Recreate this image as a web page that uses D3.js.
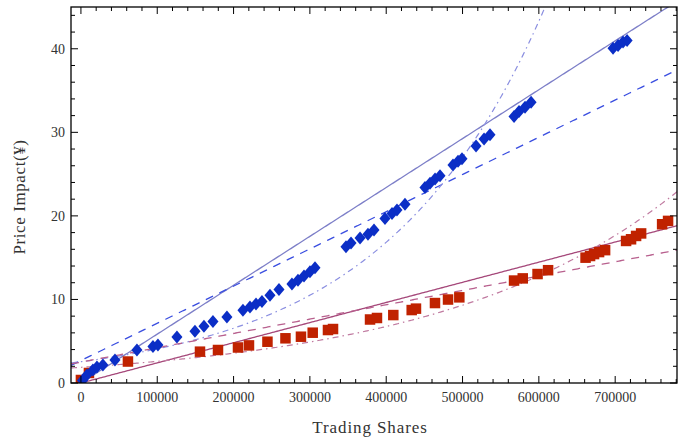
<!DOCTYPE html>
<html>
<head>
<meta charset="utf-8">
<script src="https://cdn.jsdelivr.net/npm/d3@7"></script>
<style>
  html, body { margin: 0; padding: 0; background: #fff; }
  svg { display: block; }
  text { font-family: "Liberation Serif", "DejaVu Serif", serif; }
</style>
</head>
<body>
<svg id="chart" width="686" height="441"></svg>
<script>
// Observed price impact (¥) against trading shares, two stocks
const blueShares = [2000, 7900, 15700, 21000, 28800, 44600, 73400, 94400, 100900, 125800,
  149400, 161200, 173000, 191300, 212300, 221500, 229400, 237200, 247700, 259500,
  276500, 284400, 292300, 300100, 306700, 347300, 353900, 365700, 376100, 384000,
  398400, 407600, 414100, 424600, 450800, 457400, 464000, 470500, 487500, 494100,
  499300, 517700, 528200, 536000, 567500, 574000, 581900, 589800, 697200, 703800,
  710300, 715600];
const blueImpact = [0.3, 0.96, 1.55, 1.9, 2.15, 2.75, 3.95, 4.37, 4.55, 5.5,
  6.2, 6.8, 7.35, 7.9, 8.7, 9.1, 9.45, 9.75, 10.5, 11.2,
  11.85, 12.3, 12.8, 13.3, 13.8, 16.3, 16.75, 17.35, 17.8, 18.3,
  19.7, 20.3, 20.7, 21.4, 23.4, 23.9, 24.4, 24.8, 26.1, 26.55,
  26.85, 28.35, 29.2, 29.7, 31.9, 32.5, 33.0, 33.6, 40.05, 40.4,
  40.8, 41.0];

const redShares = [0, 10500, 61600, 156000, 179600, 205800, 220200, 244400, 268000, 288300,
  303700, 323700, 330300, 378800, 387900, 409300, 433400, 439000, 463900, 481000,
  495800, 567500, 578900, 598300, 612100, 661200, 667100, 672300, 678900, 686800,
  714300, 720800, 727400, 734000, 761500, 769300];
const redImpact = [0.36, 1.2, 2.57, 3.75, 3.95, 4.25, 4.5, 4.94, 5.35, 5.54,
  6.02, 6.34, 6.46, 7.6, 7.78, 8.13, 8.73, 8.9, 9.57, 9.99,
  10.25, 12.26, 12.52, 13.04, 13.5, 15.0, 15.2, 15.43, 15.67, 15.9,
  17.0, 17.2, 17.6, 17.9, 19.0, 19.4];

// Fitted models: proportional, linear with intercept, exponential
const blueProportional = [5.85e-5];          // y = k x
const blueLinear = [2.69, 4.453e-5];         // y = a + b x
const blueExponential = [2.55, 4.72e-6];     // y = a exp(b x)
const redProportional = [2.41e-5];
const redLinear = [2.5, 1.716e-5];
const redExponential = [1.88, 3.2e-6];

const xTickValues = [0, 100000, 200000, 300000, 400000, 500000, 600000, 700000];
const yTickValues = [0, 10, 20, 30, 40];

const xTitle = "Trading Shares";
const yTitle = "Price Impact(¥)";

const svg = d3.select("#chart");
const pLeft = 71, pRight = 677, pTop = 7, pBottom = 383;

const x = d3.scaleLinear().domain([-13000, 781000]).range([pLeft, pRight]);
const y = d3.scaleLinear().domain([0, 45]).range([pBottom, pTop]);

const blueMark = "#0b2ec6", redMark = "#c02200";
const blueSolid = "#7d7fc8", blueDash = "#3a4ee0", blueDot = "#8a8ee0";
const redSolid = "#a5487a", redDash = "#b8608e", redDot = "#c07aa0";

const defs = svg.append("defs");
defs.append("clipPath").attr("id", "plotClip")
  .append("rect").attr("x", pLeft).attr("y", pTop)
  .attr("width", pRight - pLeft).attr("height", pBottom - pTop);

const plot = svg.append("g").attr("clip-path", "url(#plotClip)");

const xs = d3.range(-13000, 781001, 2000);
const line = d3.line().x(d => x(d[0])).y(d => y(d[1]));

function drawFit(fn, color, dash, width) {
  plot.append("path")
    .datum(xs.map(v => [v, fn(v)]))
    .attr("d", line)
    .attr("fill", "none")
    .attr("stroke", color)
    .attr("stroke-width", width)
    .attr("stroke-dasharray", dash);
}

drawFit(v => blueProportional[0] * v, blueSolid, null, 1.3);
drawFit(v => blueLinear[0] + blueLinear[1] * v, blueDash, "8,7", 1.3);
drawFit(v => blueExponential[0] * Math.exp(blueExponential[1] * v), blueDot, "6,4,1.5,4", 1.2);
drawFit(v => redProportional[0] * v, redSolid, null, 1.3);
drawFit(v => redLinear[0] + redLinear[1] * v, redDash, "8,7", 1.3);
drawFit(v => redExponential[0] * Math.exp(redExponential[1] * v), redDot, "6,4,1.5,4", 1.2);

// Markers
const sq = 10.5, dm = 6.5;
plot.selectAll("rect.red")
  .data(d3.zip(redShares, redImpact))
  .join("rect")
  .attr("class", "red")
  .attr("x", d => x(d[0]) - sq / 2)
  .attr("y", d => y(d[1]) - sq / 2)
  .attr("width", sq).attr("height", sq)
  .attr("fill", redMark);

plot.selectAll("path.blue")
  .data(d3.zip(blueShares, blueImpact))
  .join("path")
  .attr("class", "blue")
  .attr("d", d => {
    const cx = x(d[0]), cy = y(d[1]);
    return `M${cx},${cy - dm}L${cx + dm * 0.85},${cy}L${cx},${cy + dm}L${cx - dm * 0.85},${cy}Z`;
  })
  .attr("fill", blueMark);

// Frame with ticks on all four sides
const axes = svg.append("g");
axes.append("rect")
  .attr("x", pLeft).attr("y", pTop)
  .attr("width", pRight - pLeft).attr("height", pBottom - pTop)
  .attr("fill", "none").attr("stroke", "#000").attr("stroke-width", 1.3);

const xMinor = d3.range(0, 781000, 20000).filter(v => v % 100000 !== 0);
const yMinor = d3.range(0, 45, 2).filter(v => v % 10 !== 0);
const yMajorAll = [0, 10, 20, 30, 40];

function tick(x1, y1, x2, y2) {
  axes.append("line").attr("x1", x1).attr("y1", y1).attr("x2", x2).attr("y2", y2)
    .attr("stroke", "#000").attr("stroke-width", 1);
}
xTickValues.forEach(v => { tick(x(v), pBottom, x(v), pBottom - 7); tick(x(v), pTop, x(v), pTop + 7); });
xMinor.forEach(v => { tick(x(v), pBottom, x(v), pBottom - 4); tick(x(v), pTop, x(v), pTop + 4); });
yMajorAll.forEach(v => { tick(pLeft, y(v), pLeft + 7, y(v)); tick(pRight, y(v), pRight - 7, y(v)); });
yMinor.forEach(v => { tick(pLeft, y(v), pLeft + 4, y(v)); tick(pRight, y(v), pRight - 4, y(v)); });

// Tick labels
axes.selectAll("text.xt").data(xTickValues).join("text")
  .attr("class", "xt")
  .attr("x", d => x(d)).attr("y", pBottom + 19)
  .attr("text-anchor", "middle")
  .attr("font-size", 14)
  .attr("fill", "#333")
  .text(d => d3.format("d")(d));

axes.selectAll("text.yt").data(yTickValues).join("text")
  .attr("class", "yt")
  .attr("x", pLeft - 6).attr("y", d => y(d) + 5)
  .attr("text-anchor", "end")
  .attr("font-size", 14)
  .attr("fill", "#333")
  .text(d => d);

// Axis titles
svg.append("text")
  .attr("x", (pLeft + pRight) / 2 - 4).attr("y", 433)
  .attr("text-anchor", "middle")
  .attr("font-size", 17)
  .attr("letter-spacing", 0.9)
  .attr("fill", "#333")
  .text(xTitle);

svg.append("text")
  .attr("transform", `translate(25, ${(pTop + pBottom) / 2 + 2}) rotate(-90)`)
  .attr("text-anchor", "middle")
  .attr("font-size", 17)
  .attr("letter-spacing", 0.6)
  .attr("fill", "#333")
  .text(yTitle);
</script>
</body>
</html>
